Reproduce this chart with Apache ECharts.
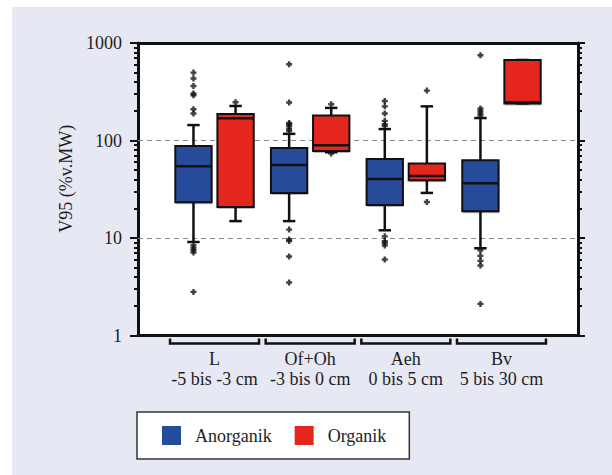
<!DOCTYPE html>
<html>
<head>
<meta charset="utf-8">
<script src="https://cdn.jsdelivr.net/npm/echarts@6/dist/echarts.min.js"></script>
<style>
  html, body { margin: 0; padding: 0; background: #ffffff; }
  #panel { position: absolute; left: 12px; top: 7px; width: 600px; height: 468px; background: #E6E8F4; }
  #chart { position: absolute; left: 0; top: 0; width: 612px; height: 475px; }
</style>
</head>
<body>
<div id="panel"></div>
<div id="chart"></div>
<script>
// Soil horizons and their depth ranges
const categories = ['L', 'Of+Oh', 'Aeh', 'Bv'];
const depthRanges = ['-5 bis -3 cm', '-3 bis 0 cm', '0 bis 5 cm', '5 bis 30 cm'];
const seriesNames = ['Anorganik', 'Organik'];

// [lower whisker, Q1, median, Q3, upper whisker] per horizon
const anorganikStats = [
  [9.1, 23.3, 54.4, 87.9, 144],
  [14.9, 29.0, 56.1, 83.9, 117],
  [12.0, 21.8, 40.3, 64.7, 131],
  [7.85, 18.8, 36.4, 62.7, 170]
];
const organikStats = [
  [14.9, 20.8, 169, 187, 226],
  [75.7, 78.1, 89.4, 180, 216],
  [29.0, 39.1, 43.3, 58.0, 224],
  [240, 240, 245, 670, 670]
];

// Values outside the whiskers per horizon
const anorganikOutliers = [
  [497, 432, 362, 303, 291, 209, 189, 8.43, 7.91, 7.49, 7.1, 2.8],
  [605, 245, 151, 147, 140, 131, 125, 12.2, 9.64, 9.33, 6.46, 3.5],
  [254, 224, 189, 159, 147, 141, 10.4, 9.27, 8.9, 8.37, 6.02],
  [748, 213, 201, 189, 180, 7.49, 6.55, 5.82, 5.22, 2.11]
];
const organikOutliers = [
  [247],
  [235, 73.5],
  [325, 23.4],
  []
];

// Logarithmic axis ticks
const yTickValues = [1, 10, 100, 1000];
const yMinorTickValues = [2, 3, 4, 5, 6, 7, 8, 9, 20, 30, 40, 50, 60, 70, 80, 90, 200, 300, 400, 500, 600, 700, 800, 900];
const gridLineValues = [10, 100];

const FONT = "'Liberation Serif', 'Times New Roman', serif";
const TEXT_COLOR = '#1e1e1e';
const BLUE = '#274B9B';
const RED = '#E4261F';
const INK = '#111111';
const GROUP_OFFSET = 0.22;   // horizontal shift of each box from the horizon centre
const BOX_HALF = 0.19;       // half box width, in x-axis units
const CAP_HALF = 0.065;      // half whisker-cap width
const BRACKET_HALF = 0.465;  // half width of the horizon bracket under the axis

const xPositions = categories.map((c, i) => i + 1);

function boxData(stats) {
  return stats.map((s, i) => [xPositions[i]].concat(s));
}
function outlierData(outliers, offset) {
  const out = [];
  outliers.forEach((list, i) => list.forEach(v => out.push([xPositions[i] + offset, v])));
  return out;
}

function boxRenderer(offset) {
  return function (params, api) {
    const x = api.value(0) + offset;
    const lo = api.coord([x, api.value(1)]);
    const q1 = api.coord([x, api.value(2)]);
    const md = api.coord([x, api.value(3)]);
    const q3 = api.coord([x, api.value(4)]);
    const hi = api.coord([x, api.value(5)]);
    const left = api.coord([x - BOX_HALF, api.value(3)])[0];
    const right = api.coord([x + BOX_HALF, api.value(3)])[0];
    const capL = api.coord([x - CAP_HALF, api.value(3)])[0];
    const capR = api.coord([x + CAP_HALF, api.value(3)])[0];
    const line = { stroke: INK, lineWidth: 2.5 };
    return {
      type: 'group',
      children: [
        { type: 'line', shape: { x1: hi[0], y1: hi[1], x2: hi[0], y2: q3[1] }, style: line },
        { type: 'line', shape: { x1: lo[0], y1: q1[1], x2: lo[0], y2: lo[1] }, style: line },
        { type: 'line', shape: { x1: capL, y1: hi[1], x2: capR, y2: hi[1] }, style: line },
        { type: 'line', shape: { x1: capL, y1: lo[1], x2: capR, y2: lo[1] }, style: line },
        { type: 'rect', shape: { x: left + 0.5, y: q3[1] + 2, width: right - left, height: q1[1] - q3[1] },
          style: { fill: 'rgba(0,0,0,0.28)' } },
        { type: 'rect', shape: { x: left, y: q3[1], width: right - left, height: q1[1] - q3[1] },
          style: { fill: api.visual('color'), stroke: INK, lineWidth: 2 } },
        { type: 'line', shape: { x1: left, y1: md[1], x2: right, y2: md[1] }, style: { stroke: INK, lineWidth: 2.5 } }
      ]
    };
  };
}

function bracketRenderer(params, api) {
  const x = api.value(0);
  const a = api.coord([x - BRACKET_HALF, yTickValues[0]]);
  const b = api.coord([x + BRACKET_HALF, yTickValues[0]]);
  const y0 = a[1] + 3, y1 = a[1] + 8;
  return {
    type: 'polyline',
    shape: { points: [[a[0], y0], [a[0], y1], [b[0], y1], [b[0], y0]] },
    style: { stroke: INK, lineWidth: 2.5, fill: null }
  };
}

const PLUS = 'path://M1.5,0h2v1.5h1.5v2h-1.5v1.5h-2v-1.5h-1.5v-2h1.5z';

const logAxisBase = {
  type: 'log', logBase: 10, min: 1, max: 1000,
  splitLine: { show: false },
  axisLine: { show: true, lineStyle: { color: INK, width: 3 } }
};

const option = {
  backgroundColor: 'transparent',
  animation: false,
  textStyle: { fontFamily: FONT, color: TEXT_COLOR },
  grid: { left: 138, right: 34, top: 43, bottom: 139.5, show: true, backgroundColor: '#ffffff', borderWidth: 0 },
  legend: {
    data: seriesNames.map(n => ({ name: n, icon: 'rect' })),
    left: 137, top: 412,
    orient: 'horizontal',
    backgroundColor: '#ffffff',
    borderColor: '#333333', borderWidth: 1.5, borderRadius: 0,
    padding: [14, 23, 14, 25],
    itemWidth: 19, itemHeight: 19, itemGap: 23,
    selectedMode: false,
    textStyle: { fontFamily: FONT, fontSize: 18, color: TEXT_COLOR, lineHeight: 19, padding: [0, 0, 0, 9] }
  },
  xAxis: [
    {
      type: 'value', min: 0.2, max: 4.8, position: 'bottom',
      axisLine: { show: true, onZero: false, lineStyle: { color: INK, width: 3 } },
      axisTick: { show: false },
      splitLine: { show: false },
      axisLabel: {
        customValues: xPositions,
        formatter: v => categories[Math.round(v) - 1] + '\n' + depthRanges[Math.round(v) - 1],
        fontFamily: FONT, fontSize: 18, color: TEXT_COLOR, lineHeight: 20, margin: 13
      }
    },
    {
      type: 'value', min: 0.2, max: 4.8, position: 'top',
      axisLine: { show: true, onZero: false, lineStyle: { color: INK, width: 3 } },
      axisTick: { show: false }, axisLabel: { show: false }, splitLine: { show: false }
    }
  ],
  yAxis: [
    Object.assign({}, logAxisBase, {
      position: 'left',
      name: 'V95 (%v.MW)', nameLocation: 'middle', nameGap: 62,
      nameTextStyle: { fontFamily: FONT, fontSize: 18, color: TEXT_COLOR, padding: [0, 0, 0, 21] },
      axisTick: { show: true, length: 8, lineStyle: { color: INK, width: 2 } },
      axisLabel: { fontFamily: FONT, fontSize: 18, color: TEXT_COLOR, margin: 16, formatter: v => String(v) }
    }),
    Object.assign({}, logAxisBase, {
      position: 'right',
      axisTick: { show: true, length: 7, lineStyle: { color: INK, width: 2 } },
      axisLabel: { show: false }
    }),
    Object.assign({}, logAxisBase, {
      position: 'left',
      axisLine: { show: false },
      axisTick: { show: true, length: 4, customValues: yMinorTickValues, lineStyle: { color: INK, width: 2 } },
      axisLabel: { show: false }
    }),
    Object.assign({}, logAxisBase, {
      position: 'right',
      axisLine: { show: false },
      axisTick: { show: true, length: 4, customValues: yMinorTickValues, lineStyle: { color: INK, width: 2 } },
      axisLabel: { show: false }
    })
  ],
  series: [
    {
      name: seriesNames[0], type: 'custom', xAxisIndex: 0, yAxisIndex: 0,
      itemStyle: { color: BLUE },
      renderItem: boxRenderer(-GROUP_OFFSET),
      encode: { x: 0, y: [1, 2, 3, 4, 5] },
      data: boxData(anorganikStats), z: 3
    },
    {
      name: seriesNames[1], type: 'custom', xAxisIndex: 0, yAxisIndex: 0,
      itemStyle: { color: RED },
      renderItem: boxRenderer(GROUP_OFFSET),
      encode: { x: 0, y: [1, 2, 3, 4, 5] },
      data: boxData(organikStats), z: 3
    },
    {
      name: 'Ausreißer Anorganik', type: 'scatter', xAxisIndex: 0, yAxisIndex: 0,
      symbol: PLUS, symbolSize: 6, itemStyle: { color: INK },
      data: outlierData(anorganikOutliers, -GROUP_OFFSET), z: 4,
      markLine: {
        silent: true, symbol: 'none', label: { show: false },
        lineStyle: { type: [5, 4], color: '#8a8a8a', width: 1.2 },
        data: gridLineValues.map(v => ({ yAxis: v })),
        z: 1
      }
    },
    {
      name: 'Ausreißer Organik', type: 'scatter', xAxisIndex: 0, yAxisIndex: 0,
      symbol: PLUS, symbolSize: 6, itemStyle: { color: INK },
      data: outlierData(organikOutliers, GROUP_OFFSET), z: 4
    },
    {
      name: 'Horizonte', type: 'custom', xAxisIndex: 0, yAxisIndex: 0,
      renderItem: bracketRenderer, clip: false, silent: true,
      encode: { x: 0, y: 1 },
      data: xPositions.map(x => [x, yTickValues[0]])
    }
  ]
};

const chart = echarts.init(document.getElementById('chart'), null, { renderer: 'svg' });
chart.setOption(option);
</script>
</body>
</html>
